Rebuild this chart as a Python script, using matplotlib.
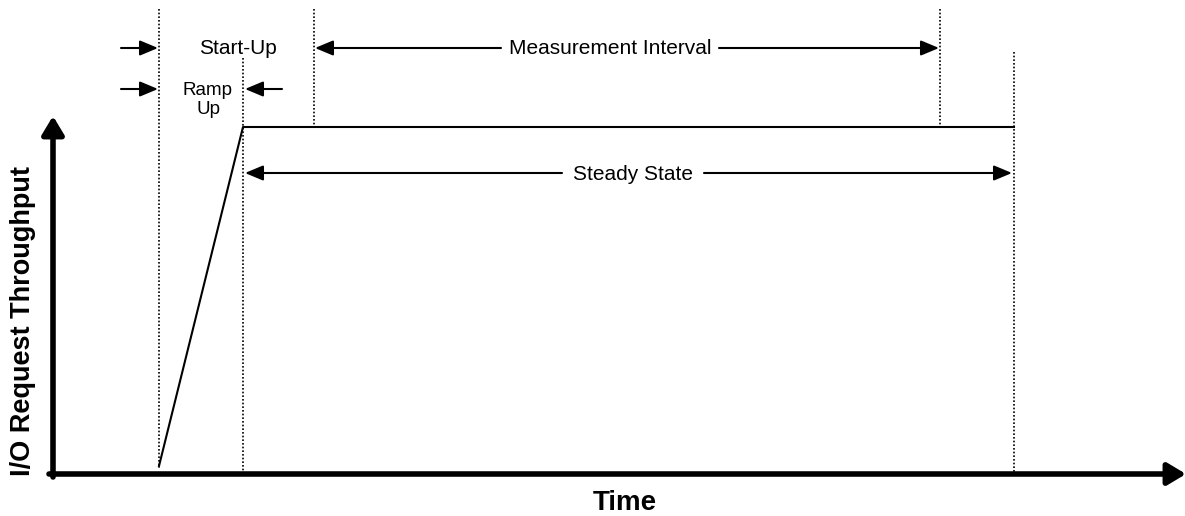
import matplotlib.pyplot as plt

plt.rcParams['font.family'] = ['Liberation Sans', 'DejaVu Sans']

# phase boundaries (pixel-like time coords) and throughput levels
phase_x = [159, 243, 314, 940, 1014]          # ramp start, ramp end, meas start, meas end, steady end
phase_top = [9, 58, 9, 9, 52]                 # top of each dotted marker
phase_bottom = [468, 474, 127, 127, 474]
curve_t = [159, 243, 1014]
curve_y = [466, 127, 127]

fig = plt.figure(figsize=(11.85, 5.16), dpi=100)
ax = fig.add_axes([0, 0, 1, 1])
ax.set_xlim(0, 1185)
ax.set_ylim(516, 0)
ax.axis('off')

# dotted phase markers
for x, t, b in zip(phase_x, phase_top, phase_bottom):
    ax.plot([x, x], [t, b], color='black', linestyle=(0, (1, 1.2)), linewidth=1.2)

# throughput curve
ax.plot(curve_t, curve_y, color='black', linewidth=1.5)

# axes with arrows
axis_arrow = dict(arrowstyle='-|>,head_length=0.5,head_width=0.3', color='black', lw=4,
                  mutation_scale=22, shrinkA=0, shrinkB=0)
ax.annotate('', xy=(53, 116), xytext=(53, 477), arrowprops=axis_arrow, annotation_clip=False)
ax.annotate('', xy=(1186, 474), xytext=(49, 474), arrowprops=axis_arrow, annotation_clip=False)

arrow = dict(arrowstyle='-|>,head_length=0.55,head_width=0.23', color='black', lw=1.5,
             mutation_scale=20, shrinkA=0, shrinkB=0)

def span(x0, x1, y, label, xm, gap):
    # double-headed arrow with label in the gap
    ax.annotate('', xy=(x0, y), xytext=(xm - gap, y), arrowprops=arrow)
    ax.annotate('', xy=(x1, y), xytext=(xm + gap, y), arrowprops=arrow)
    ax.text(xm, y + 1, label, ha='center', va='center', fontsize=15)

# Start-Up row
ax.annotate('', xy=(158, 48), xytext=(121, 48), arrowprops=arrow)
ax.text(238, 49, 'Start-Up', ha='center', va='center', fontsize=15)
span(315, 939, 48, 'Measurement Interval', 610, 109)

# Ramp Up row
ax.annotate('', xy=(245, 89), xytext=(282, 89), arrowprops=arrow)
ax.annotate('', xy=(158, 89), xytext=(121, 89), arrowprops=arrow)
ax.text(208, 100, 'Ramp\nUp', ha='center', va='center', fontsize=13.5, linespacing=1.2)

# Steady State row
span(245, 1012, 173, 'Steady State', 633, 71)

ax.text(23, 321, 'I/O Request Throughput', rotation=90, ha='center', va='center',
        fontsize=19.5, fontweight='bold')
ax.text(625, 503, 'Time', ha='center', va='center', fontsize=20, fontweight='bold')

fig.savefig('out.png', dpi=100)
